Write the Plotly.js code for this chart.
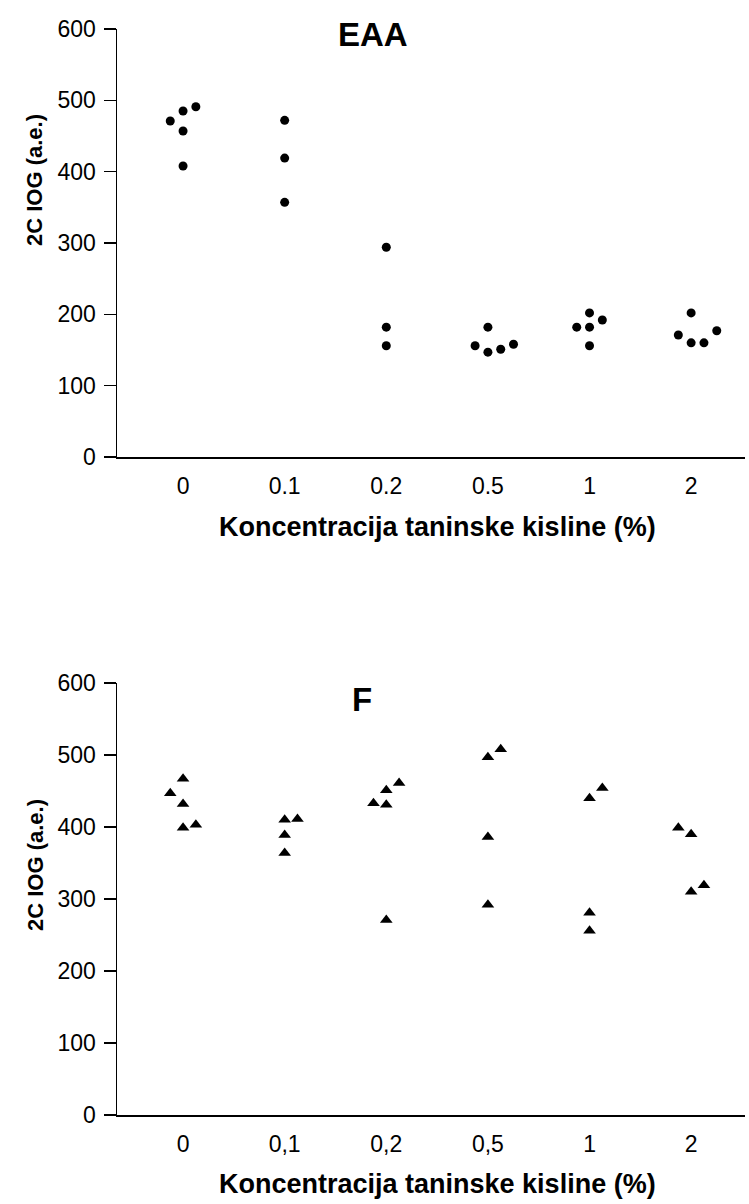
<!DOCTYPE html>
<html>
<head>
<meta charset="utf-8">
<script src="https://cdn.plot.ly/plotly-3.0.1.min.js"></script>
<style>
  html, body { margin: 0; padding: 0; background: #fff; }
  #chart { width: 749px; height: 1204px; }
</style>
</head>
<body>
<div id="chart"></div>
<script>
// Category labels
const catsTop = ["0", "0.1", "0.2", "0.5", "1", "2"];
const catsBottom = ["0", "0,1", "0,2", "0,5", "1", "2"];

// EAA (top panel): group index, jitter slot, value
const eaaGroup = [0, 0, 0, 0, 0, 1, 1, 1, 2, 2, 2, 3, 3, 3, 3, 3, 4, 4, 4, 4, 4, 5, 5, 5, 5, 5];
const eaaSlot  = [-1, 0, 1, 0, 0, 0, 0, 0, 0, 0, 0, 0, -1, 0, 1, 2, 0, 1, -1, 0, 0, 0, -1, 0, 1, 2];
const eaaValue = [471, 485, 491, 457, 408, 472, 419, 357, 294, 182, 156, 182, 156, 147, 151, 158, 202, 192, 182, 182, 156, 202, 171, 160, 160, 177];

// F (bottom panel)
const fGroup = [0, 0, 0, 0, 0, 1, 1, 1, 1, 2, 2, 2, 2, 2, 3, 3, 3, 3, 4, 4, 4, 4, 5, 5, 5, 5];
const fSlot  = [0, -1, 0, 0, 1, 0, 1, 0, 0, -1, 0, 1, 0, 0, 0, 1, 0, 0, 0, 1, 0, 0, -1, 0, 0, 1];
const fValue = [467, 447, 432, 399, 403, 410, 411, 389, 364, 433, 451, 461, 431, 271, 497, 508, 386, 292, 440, 454, 281, 256, 399, 390, 310, 319];

const yTicks = [0, 100, 200, 300, 400, 500, 600];

const W = 749, H = 1204;
const SLOT = 0.126;
const FONT = "Liberation Sans, Arial, sans-serif";

const xs = (g, s) => g.map((v, i) => v + s[i] * SLOT);

const traces = [
  {
    x: xs(eaaGroup, eaaSlot), y: eaaValue, type: "scatter", mode: "markers",
    xaxis: "x", yaxis: "y",
    marker: { symbol: "circle", size: 9, color: "#000" }, showlegend: false
  },
  {
    x: xs(fGroup, fSlot), y: fValue, type: "scatter", mode: "markers",
    xaxis: "x2", yaxis: "y2",
    marker: { symbol: "triangle-up", size: 11, color: "#000" }, showlegend: false
  }
];

const px = v => v / W;
const py = v => 1 - v / H;

function xaxisDef(labels, anchor) {
  return {
    domain: [px(117), px(745)],
    range: [-0.65, 5.53],
    anchor: anchor,
    showline: true, linecolor: "#000", linewidth: 1.5,
    showgrid: false, zeroline: false,
    ticks: "", tickmode: "array",
    tickvals: labels.map((_, i) => i), ticktext: labels,
    tickfont: { family: FONT, size: 23, color: "#000" },
    ticklabelstandoff: 8,
    fixedrange: true
  };
}
function yaxisDef(top, bottom, anchor) {
  return {
    domain: [py(bottom), py(top)],
    range: [0, 600],
    anchor: anchor,
    showline: true, linecolor: "#000", linewidth: 1.5,
    showgrid: false, zeroline: false,
    ticks: "outside", ticklen: 12, tickwidth: 1.5, tickcolor: "#000",
    tickmode: "array", tickvals: yTicks,
    tickfont: { family: FONT, size: 23, color: "#000" },
    ticklabelstandoff: 3,
    fixedrange: true
  };
}

const ann = (text, x, y, size, angle) => ({
  text: text, xref: "paper", yref: "paper", x: px(x), y: py(y),
  xanchor: "center", yanchor: "middle", showarrow: false, textangle: angle || 0,
  font: { family: FONT, size: size, color: "#000", weight: "bold" }
});

const layout = {
  width: W, height: H,
  margin: { l: 0, r: 0, t: 0, b: 0 },
  paper_bgcolor: "#fff", plot_bgcolor: "#fff",
  showlegend: false,
  xaxis: xaxisDef(catsTop, "y"),
  yaxis: yaxisDef(29, 457, "x"),
  xaxis2: xaxisDef(catsBottom, "y2"),
  yaxis2: yaxisDef(683, 1115, "x2"),
  annotations: [
    ann("EAA", 373, 34, 33),
    ann("F", 362, 699, 33),
    ann("2C IOG (a.e.)", 35, 180, 22, -90),
    ann("2C IOG (a.e.)", 35, 865, 22, -90),
    ann("Koncentracija taninske kisline (%)", 437, 527, 27),
    ann("Koncentracija taninske kisline (%)", 437, 1184, 27)
  ]
};

Plotly.newPlot("chart", traces, layout, { staticPlot: true, displayModeBar: false });
</script>
</body>
</html>
